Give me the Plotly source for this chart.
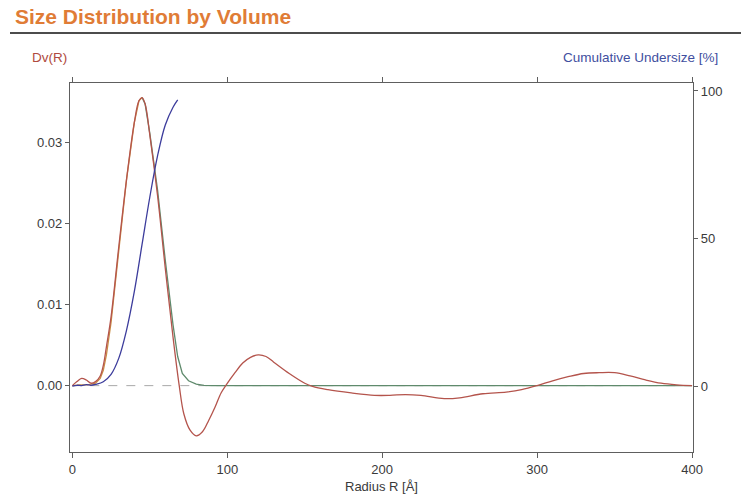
import plotly.graph_objects as go

# Radius grid [Å] and measured volume distribution Dv(R)
radius = [0, 3, 6, 9, 12, 15, 18, 20, 22, 25, 30, 35, 40, 43, 45, 47, 50, 55, 60, 65,
          69, 72, 76, 80, 84, 88, 92, 96, 99, 105, 110, 115, 120, 125, 130, 140, 150,
          155, 165, 180, 195, 205, 215, 225, 240, 250, 265, 280, 290, 300, 310, 320,
          330, 340, 350, 360, 370, 380, 390, 400]
dv = [0.0, 0.0005, 0.0009, 0.0007, 0.0003, 0.0005, 0.0012, 0.0025, 0.0048, 0.0085,
      0.0172, 0.0255, 0.0325, 0.0352, 0.0356, 0.0348, 0.031, 0.0235, 0.0145, 0.006,
      0.0, -0.0035, -0.0055, -0.0062, -0.0057, -0.0043, -0.0027, -0.0009, 0.0, 0.0016,
      0.0028, 0.0035, 0.0038, 0.0036, 0.0029, 0.0015, 0.0003, -0.0001, -0.0005,
      -0.0009, -0.0012, -0.0012, -0.0011, -0.0012, -0.0016, -0.0015, -0.001, -0.0008,
      -0.0005, 0.0, 0.0006, 0.0011, 0.0015, 0.0016, 0.0016, 0.0012, 0.0007, 0.0003,
      0.0001, 0.0]

# Fitted distribution: rising flank and falling flank / baseline
fit_rise_r = [0, 5, 10, 15, 18, 20, 22, 25, 30, 35, 40, 43, 45]
fit_rise_v = [0.0, 0.0001, 0.0001, 0.0003, 0.0009, 0.0019, 0.0038, 0.0078, 0.0167,
              0.0255, 0.0325, 0.0352, 0.0356]
fit_fall_r = [45, 47, 50, 55, 60, 65, 68, 71, 75, 80, 85, 90, 150, 250, 400]
fit_fall_v = [0.0356, 0.0348, 0.0312, 0.0242, 0.0155, 0.0075, 0.0036, 0.0015, 0.0006,
              0.0002, 0.00003, 0.0, 0.0, 0.0, 0.0]

# Cumulative undersize [%]
cum_r = [0, 3, 6, 9, 12, 15, 20, 25, 30, 35, 40, 45, 50, 55, 60, 65, 68]
cum_v = [0.0, 0.3, 0.2, 0.5, 0.3, 0.6, 1.5, 4.0, 9.5, 19.0, 32.0, 48.0, 64.0, 78.0,
         88.5, 94.5, 97.0]

x_ticks = [0, 100, 200, 300, 400]
left_ticks = [0.0, 0.01, 0.02, 0.03]
left_labels = ["0.00", "0.01", "0.02", "0.03"]
right_ticks = [0, 50, 100]

RED = "#b4544c"
BLUE = "#3c3c9c"
ORANGE = "#c98d44"
GREEN = "#5f8a6c"
AXIS = "#5e5e5e"
TXT = "#3a3a3a"
FONT = "Liberation Sans, Arial, sans-serif"

# plot-area size in pixels, used to place the header items in paper units
PW, PH = 623, 369

fig = go.Figure()

# zero reference line
fig.add_trace(go.Scatter(x=[0, 400], y=[0, 0], mode="lines",
                         line=dict(color="#a8a8a8", width=1, dash="dash"),
                         hoverinfo="skip", showlegend=False))
fig.add_trace(go.Scatter(x=fit_fall_r, y=fit_fall_v, mode="lines",
                         line=dict(color=GREEN, width=1.3), showlegend=False))
fig.add_trace(go.Scatter(x=fit_rise_r, y=fit_rise_v, mode="lines",
                         line=dict(color=ORANGE, width=1.3), showlegend=False))
fig.add_trace(go.Scatter(x=radius, y=dv, mode="lines", line_shape="spline",
                         line=dict(color=RED, width=1.3), showlegend=False))
fig.add_trace(go.Scatter(x=cum_r, y=cum_v, mode="lines", line_shape="spline",
                         line=dict(color=BLUE, width=1.3), yaxis="y2",
                         showlegend=False))

fig.update_layout(
    width=741, height=503,
    margin=dict(l=70, r=48, t=83, b=51),
    paper_bgcolor="white", plot_bgcolor="white",
    font=dict(family=FONT, size=13, color=TXT),
    xaxis=dict(range=[-1.5, 400.6], tickvals=x_ticks, showgrid=False, zeroline=False,
               showline=True, linecolor=AXIS, linewidth=1.2, mirror="ticks",
               ticks="outside", ticklen=5, tickcolor=AXIS,
               tickfont=dict(size=13, color=TXT),
               title=dict(text="Radius R [Å]", font=dict(size=13, color=TXT),
                          standoff=6)),
    yaxis=dict(range=[-0.0082, 0.0374], tickvals=left_ticks, ticktext=left_labels,
               showgrid=False, zeroline=False, showline=True, linecolor=AXIS,
               linewidth=1.2, ticks="outside", ticklen=4, tickcolor=AXIS,
               tickfont=dict(size=13, color=TXT)),
    yaxis2=dict(range=[-22.3, 102.7], tickvals=right_ticks, overlaying="y",
                side="right", showgrid=False, zeroline=False, showline=True,
                linecolor=AXIS, linewidth=1.2, ticks="outside", ticklen=4,
                tickcolor=AXIS, tickfont=dict(size=13, color=TXT)),
    annotations=[
        dict(text="<b>Size Distribution by Volume</b>", xref="paper", yref="paper",
             x=-57 / PW, y=1 + 66 / PH, xanchor="left", yanchor="middle",
             showarrow=False, font=dict(size=21, color="#e07c36", family=FONT)),
        dict(text="Dv(R)", xref="paper", yref="paper", x=-40 / PW, y=1 + 26 / PH,
             xanchor="left", yanchor="middle", showarrow=False,
             font=dict(size=13.5, color="#b04a40", family=FONT)),
        dict(text="Cumulative Undersize [%]", xref="paper", yref="paper",
             x=1 + 27 / PW, y=1 + 26 / PH, xanchor="right", yanchor="middle",
             showarrow=False, font=dict(size=13.5, color="#3f4fa0", family=FONT)),
    ],
    shapes=[
        dict(type="line", xref="paper", yref="paper", x0=-60 / PW, x1=1 + 48 / PW,
             y0=1 + 50 / PH, y1=1 + 50 / PH, line=dict(color="#111111", width=1.5)),
    ],
)

fig.write_html("out.html")
